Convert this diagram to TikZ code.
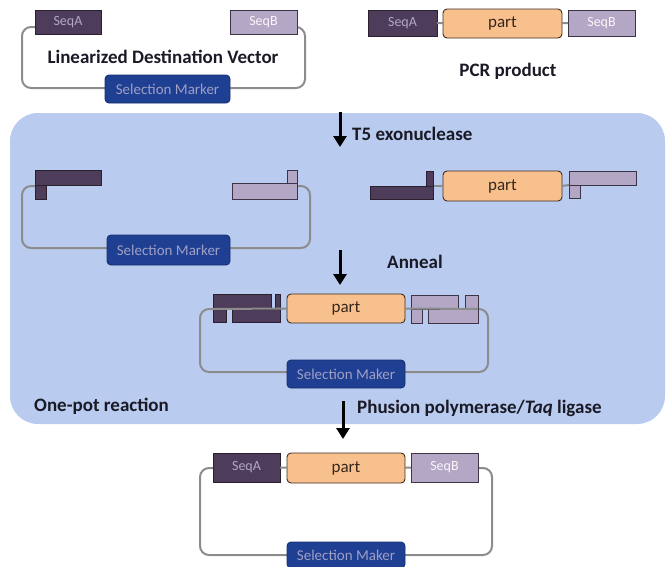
\documentclass[tikz,border=0pt]{standalone}
\usepackage{fontspec}
\setmainfont{Carlito}
\usetikzlibrary{arrows.meta}
\definecolor{seqaF}{HTML}{4D3D5A}
\definecolor{seqaB}{HTML}{2A2030}
\definecolor{seqbF}{HTML}{B4A7C6}
\definecolor{seqbB}{HTML}{3B3446}
\definecolor{partF}{HTML}{F8C08C}
\definecolor{partB}{HTML}{3D2B1F}
\definecolor{selF}{HTML}{1F3F92}
\definecolor{selB}{HTML}{16306E}
\definecolor{panelF}{HTML}{B9CBEF}
\definecolor{dnaC}{HTML}{8C8C8C}
\definecolor{txtC}{HTML}{1A1A26}
\tikzset{
  box/.style={inner sep=0pt, outer sep=0pt, line width=0.9pt},
  seqa/.style={box, draw=seqaB, fill=seqaF, text=seqbF, font=\fontsize{14}{14}\selectfont},
  seqb/.style={box, draw=seqbB, fill=seqbF, text=white!90!seqbF, font=\fontsize{14}{14}\selectfont},
  partbox/.style={box, draw=partB, fill=partF, rounded corners=4pt, text=partB!90!black, font=\fontsize{17}{17}\selectfont},
  selbox/.style={box, draw=selB, fill=selF, rounded corners=4pt, text=blue!25!gray!60!white, font=\fontsize{15}{15}\selectfont},
  dna/.style={draw=dnaC, line width=2pt, rounded corners=9pt},
  stepArrow/.style={line width=3pt, -{Triangle[width=13pt,length=11pt]}},
  lbl/.style={text=txtC, font=\bfseries\fontsize{19}{19}\selectfont, inner sep=0pt},
}
\begin{document}
\begin{tikzpicture}[x=1pt,y=-1pt]
\useasboundingbox (0,0) rectangle (668,566);
\clip (0,0) rectangle (668,566);

% ---------- top left: linearized vector
\draw[dna] (35,27) -- (22,27) -- (22,88) -- (305,88) -- (305,27) -- (297,27);
\node[seqa, minimum width=66pt, minimum height=24pt] (a1) at (68,22) {SeqA};
\node[seqb, minimum width=67pt, minimum height=24pt] (b1) at (263.5,22) {SeqB};
\node[selbox, minimum width=125pt, minimum height=28pt] (s1) at (167.5,89) {Selection Marker};
\node[lbl] (l1) at (163,57) {Linearized Destination Vector};

% ---------- top right: PCR product
\node[seqa, minimum width=69pt, minimum height=26pt] (a2) at (402.5,23) {SeqA};
\node[partbox, minimum width=119pt, minimum height=29pt] (p2) at (502.5,23.5) {part};
\node[seqb, minimum width=67pt, minimum height=26pt] (b2) at (601.5,23) {SeqB};
\draw[dna] (a2) -- (p2);
\draw[dna] (p2) -- (b2);
\node[lbl] (l2) at (508,71) {PCR product};

% ---------- panel
\fill[panelF, rounded corners=28pt] (10,113) rectangle (665,424);

% arrow 1
\coordinate (t1s) at (340,112);
\coordinate (t1e) at (340,147);
\draw[stepArrow] (t1s) -- (t1e);
\node[lbl, anchor=west] (l3) at (352,134) {T5 exonuclease};

% ---------- stage 2 left
\draw[dna] (35,186) -- (22,186) -- (22,248) -- (310,248) -- (310,186) -- (297,186);
\node[seqa, minimum width=66pt, minimum height=15pt] (a3t) at (68,177.5) {};
\node[seqa, minimum width=11pt, minimum height=14pt] (a3s) at (40.5,192) {};
\node[seqb, minimum width=65pt, minimum height=16pt] (b3b) at (264.5,191) {};
\node[seqb, minimum width=10pt, minimum height=13pt] (b3s) at (292,176.5) {};
\node[selbox, minimum width=123pt, minimum height=30pt] (s3) at (168.5,250) {Selection Marker};

% ---------- stage 2 right
\node[seqa, minimum width=63pt, minimum height=13pt] (a4b) at (401.5,192.5) {};
\node[seqa, minimum width=7pt, minimum height=15pt] (a4s) at (430,178.5) {};
\node[partbox, minimum width=119pt, minimum height=30pt] (p4) at (502.5,186) {part};
\node[seqb, minimum width=67pt, minimum height=14pt] (b4t) at (602.5,178) {};
\node[seqb, minimum width=11pt, minimum height=13pt] (b4s) at (574.5,191.5) {};
\draw[dna] (a4s.south east) -- (p4.west);
\draw[dna] (p4.east) -- (b4s.north west);

% arrow 2
\coordinate (t2s) at (340,250);
\coordinate (t2e) at (340,285);
\draw[stepArrow] (t2s) -- (t2e);
\node[lbl] (l4) at (415,262) {Anneal};

% ---------- stage 3 annealed
\draw[dna] (213,309) -- (200,309) -- (200,372) -- (488,372) -- (488,309) -- (478,309);
\node[seqa, minimum width=58pt, minimum height=15pt] (a5t1) at (242,301.5) {};
\node[seqa, minimum width=5pt, minimum height=15pt] (a5t2) at (277.5,301.5) {};
\node[seqa, minimum width=13pt, minimum height=13pt] (a5b1) at (219.5,315.5) {};
\node[seqa, minimum width=48pt, minimum height=13pt] (a5b2) at (256,315.5) {};
\node[seqb, minimum width=47pt, minimum height=14pt] (b5t1) at (434.5,302) {};
\node[seqb, minimum width=13pt, minimum height=14pt] (b5t2) at (471.5,302) {};
\node[seqb, minimum width=11pt, minimum height=14pt] (b5b1) at (416.5,316) {};
\node[seqb, minimum width=50pt, minimum height=14pt] (b5b2) at (453,316) {};
\node[partbox, minimum width=118pt, minimum height=29pt] (p5) at (346,308.5) {part};
\draw[draw=dnaC, line width=2pt] (a5t1.south west) -- (p5.west);
\draw[draw=dnaC, line width=2pt] (p5.east) -- (b5t2.south east);
\node[selbox, minimum width=118pt, minimum height=28pt] (s5) at (346,374) {Selection Maker};

\node[lbl, anchor=west] (l5) at (34,406) {One-pot reaction};

% arrow 3
\coordinate (t3s) at (343,401);
\coordinate (t3e) at (343,439);
\draw[stepArrow] (t3s) -- (t3e);
\node[lbl, anchor=west] (l6) at (357,408) {Phusion polymerase/\textit{Taq} ligase};

% ---------- final product
\draw[dna] (213,468) -- (200,468) -- (200,555) -- (492,555) -- (492,468) -- (478,468);
\node[seqa, minimum width=67pt, minimum height=29pt] (a6) at (246.5,467.5) {SeqA};
\node[partbox, minimum width=118pt, minimum height=30pt] (p6) at (346,468) {part};
\node[seqb, minimum width=67pt, minimum height=29pt] (b6) at (444.5,467.5) {SeqB};
\draw[dna] (a6) -- (p6);
\draw[dna] (p6) -- (b6);
\node[selbox, minimum width=118pt, minimum height=26pt] (s6) at (346,555) {Selection Maker};
\end{tikzpicture}
\end{document}
